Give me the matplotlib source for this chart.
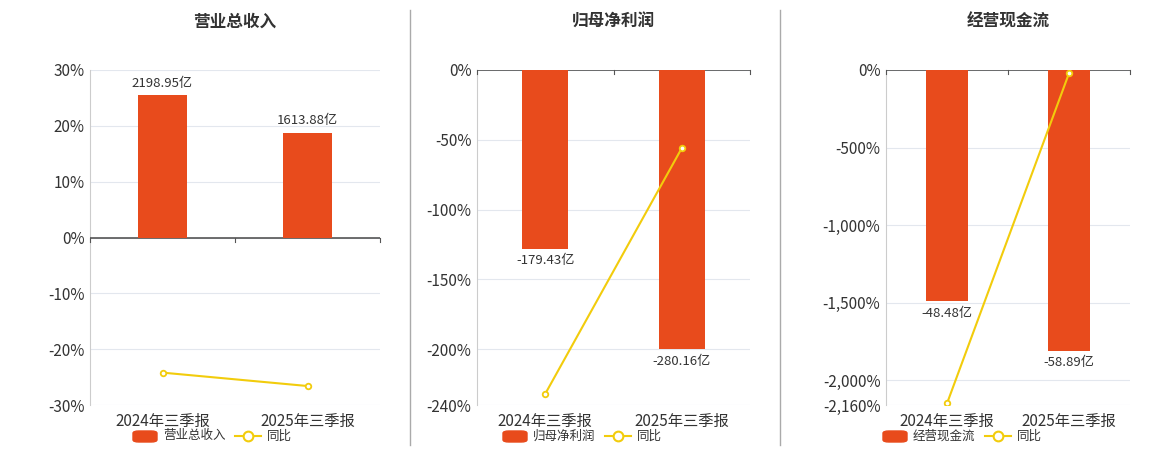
import matplotlib as mpl
mpl.use('Agg')
import matplotlib.pyplot as plt
from matplotlib.ticker import FuncFormatter

plt.rcParams['font.family'] = ['Noto Sans CJK SC', 'DejaVu Sans']

categories = ['2024年三季报', '2025年三季报']
titles = ['营业总收入', '归母净利润', '经营现金流']
bar_values = [[2198.95, 1613.88], [-179.43, -280.16], [-48.48, -58.89]]
bar_labels = [['2198.95亿', '1613.88亿'], ['-179.43亿', '-280.16亿'], ['-48.48亿', '-58.89亿']]
yoy = [[-24.2, -26.6], [-232.0, -56.0], [-2150.0, -21.5]]
pct_lims = [(-30, 30), (-240, 0), (-2160, 0)]
pct_ticks = [[-30, -20, -10, 0, 10, 20, 30],
             [-240, -200, -150, -100, -50, 0],
             [-2160, -2000, -1500, -1000, -500, 0]]
# bar axis limits, chosen so bars sit where the reference draws them
bar_lims = [(-2587, 2587), (-336, 0), (-70.3, 0)]

BAR = '#E84B1C'
LINE = '#F2CC0C'

fig = plt.figure(figsize=(11.6, 4.5), dpi=100)
W, H = 1160, 450
boxes = [(90, 380), (477, 750), (886, 1130)]
legend_x = [133, 503, 883]

for i in range(3):
    x0, x1 = boxes[i]
    ax = fig.add_axes([x0 / W, (H - 405) / H, (x1 - x0) / W, 335 / H])
    ax.set_xlim(-0.5, 1.5)
    ax.set_ylim(*pct_lims[i])
    ax.set_yticks(pct_ticks[i])
    ax.yaxis.set_major_formatter(FuncFormatter(lambda v, p: '{:,.0f}%'.format(v)))
    ax.tick_params(axis='y', length=0, labelsize=11, colors='#333333', pad=4)
    ax.set_xticks([0, 1])
    ax.set_xticklabels(categories, fontsize=11, color='#333333')
    ax.tick_params(axis='x', length=0, pad=6)
    ax.grid(axis='y', color='#E3E7EE', lw=0.8)
    ax.set_axisbelow(True)
    for s in ['top', 'right', 'bottom']:
        ax.spines[s].set_visible(False)
    ax.spines['left'].set_color('#CCCCCC')
    ax.axhline(0, color='#555555', lw=1.2, zorder=3)
    for xt in [-0.5, 0.5, 1.5]:
        ax.plot([xt, xt], [0, -(pct_lims[i][1] - pct_lims[i][0]) * 0.012],
                color='#555555', lw=0.8, zorder=3, clip_on=False)

    bx = ax.twinx()
    bx.set_ylim(*bar_lims[i])
    bx.axis('off')
    bars = bx.bar([0, 1], bar_values[i], width=0.34, color=BAR, zorder=2)
    for b, v, lab in zip(bars, bar_values[i], bar_labels[i]):
        off = 4 if v > 0 else -4
        bx.annotate(lab, (b.get_x() + b.get_width() / 2, v), xytext=(0, off),
                    textcoords='offset points', ha='center',
                    va='bottom' if v > 0 else 'top', fontsize=9.5, color='#333333')

    lx = ax.twinx()
    lx.set_ylim(*pct_lims[i])
    lx.axis('off')
    lx.plot([0, 1], yoy[i], color=LINE, lw=1.5, marker='o', ms=4,
            mfc='white', mec=LINE, mew=1.3, zorder=5)

    fig.text((x0 + x1) / 2 / W, 1 - 22 / H, titles[i], ha='center', va='center',
             fontsize=12, fontweight='bold', color='#333333')

    lxp = legend_x[i]
    fig.patches.append(mpl.patches.FancyBboxPatch(
        (lxp / W, (H - 442) / H), 24 / W, 11 / H, boxstyle='round,pad=0,rounding_size=0.005',
        transform=fig.transFigure, color=BAR))
    fig.text((lxp + 30) / W, (H - 436) / H, titles[i], va='center', fontsize=9, color='#333333')
    fig.lines.append(plt.Line2D([(lxp + 102) / W, (lxp + 128) / W], [(H - 436) / H] * 2,
                                transform=fig.transFigure, color=LINE, lw=1.5))
    fig.lines.append(plt.Line2D([(lxp + 115) / W], [(H - 436) / H], transform=fig.transFigure,
                                marker='o', ms=7, mfc='white', mec=LINE, mew=1.5))
    fig.text((lxp + 134) / W, (H - 436) / H, '同比', va='center', fontsize=9, color='#333333')

for xs in [410, 780]:
    fig.lines.append(plt.Line2D([xs / W, xs / W], [(H - 445) / H, (H - 10) / H],
                                transform=fig.transFigure, color='#AAAAAA', lw=1))

fig.savefig('out.png', dpi=100)
